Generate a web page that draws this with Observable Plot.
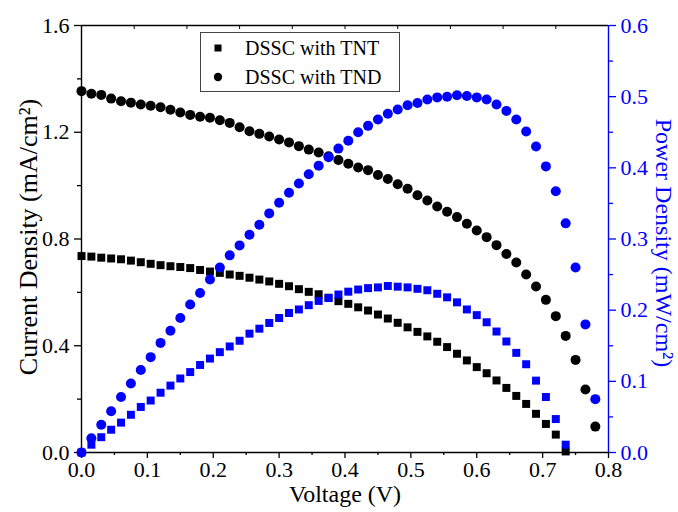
<!DOCTYPE html>
<html>
<head>
<meta charset="utf-8">
<script src="https://cdn.jsdelivr.net/npm/d3@7"></script>
<script src="https://cdn.jsdelivr.net/npm/@observablehq/plot@0.6"></script>
<style>
  html, body { margin: 0; padding: 0; background: #fff; overflow: hidden; }
  #wrap { position: relative; width: 678px; height: 512px; font-family: "Liberation Serif", "Times New Roman", serif; }
  #wrap > svg { position: absolute; left: 0; top: 0; }
  #legend { position: absolute; left: 200px; top: 32px; width: 200px; height: 60px; border: 1px solid #444; background: #fff; box-sizing: border-box; font-size: 20px; color: #000; }
  #legend .row { position: absolute; left: 0; height: 24px; display: flex; align-items: center; white-space: nowrap; }
  #legend .row svg { position: static; display: block; margin-left: 11px; margin-right: 21px; }
</style>
</head>
<body>
<div id="wrap"></div>
<script>
// ---- data ----
const voltage = [0, 0.015, 0.03, 0.045, 0.06, 0.075, 0.09, 0.105, 0.12, 0.135, 0.15, 0.165, 0.18, 0.195, 0.21, 0.225, 0.24, 0.255, 0.27, 0.285, 0.3, 0.315, 0.33, 0.345, 0.36, 0.375, 0.39, 0.405, 0.42, 0.435, 0.45, 0.465, 0.48, 0.495, 0.51, 0.525, 0.54, 0.555, 0.57, 0.585, 0.6, 0.615, 0.63, 0.645, 0.66, 0.675, 0.69, 0.705, 0.72, 0.735, 0.75, 0.765, 0.78];

const tntCurrent = [0.736, 0.734, 0.730, 0.727, 0.724, 0.719, 0.713, 0.707, 0.702, 0.698, 0.695, 0.691, 0.684, 0.678, 0.673, 0.667, 0.662, 0.655, 0.648, 0.641, 0.632, 0.623, 0.612, 0.602, 0.593, 0.580, 0.567, 0.557, 0.544, 0.532, 0.517, 0.502, 0.486, 0.469, 0.452, 0.435, 0.415, 0.395, 0.370, 0.345, 0.320, 0.297, 0.270, 0.242, 0.212, 0.182, 0.145, 0.107, 0.067, 0.004];

const tntPower = [0.000, 0.011, 0.0215, 0.032, 0.042, 0.053, 0.064, 0.073, 0.084, 0.094, 0.104, 0.113, 0.123, 0.132, 0.141, 0.149, 0.157, 0.167, 0.174, 0.182, 0.189, 0.196, 0.201, 0.207, 0.213, 0.217, 0.222, 0.226, 0.229, 0.231, 0.232, 0.234, 0.233, 0.232, 0.230, 0.228, 0.223, 0.218, 0.211, 0.201, 0.193, 0.183, 0.170, 0.156, 0.140, 0.124, 0.101, 0.078, 0.047, 0.011];

const tndCurrent = [1.354, 1.344, 1.340, 1.326, 1.316, 1.311, 1.304, 1.299, 1.294, 1.284, 1.274, 1.265, 1.258, 1.254, 1.245, 1.235, 1.219, 1.204, 1.194, 1.184, 1.173, 1.162, 1.148, 1.135, 1.124, 1.110, 1.096, 1.082, 1.068, 1.058, 1.040, 1.025, 1.005, 0.988, 0.964, 0.944, 0.922, 0.902, 0.882, 0.857, 0.832, 0.807, 0.777, 0.744, 0.712, 0.667, 0.622, 0.572, 0.511, 0.437, 0.347, 0.236, 0.097];

const tndPower = [0.000, 0.020, 0.039, 0.058, 0.078, 0.097, 0.116, 0.134, 0.154, 0.171, 0.189, 0.208, 0.224, 0.243, 0.260, 0.277, 0.291, 0.306, 0.320, 0.336, 0.351, 0.365, 0.378, 0.391, 0.403, 0.415, 0.427, 0.438, 0.450, 0.459, 0.468, 0.476, 0.482, 0.488, 0.491, 0.496, 0.499, 0.500, 0.502, 0.501, 0.499, 0.496, 0.489, 0.480, 0.468, 0.451, 0.430, 0.402, 0.367, 0.322, 0.260, 0.180, 0.075];

const seriesNames = ["DSSC with TNT", "DSSC with TND"];

const xTicks = [0, 0.1, 0.2, 0.3, 0.4, 0.5, 0.6, 0.7, 0.8];
const xMinorTicks = [0.05, 0.15, 0.25, 0.35, 0.45, 0.55, 0.65, 0.75];
const xTopTicks = [0.08, 0.16, 0.24, 0.32, 0.40, 0.48, 0.56, 0.64, 0.72];
const currentTicks = [0, 0.4, 0.8, 1.2, 1.6];
const currentMinorTicks = [0.2, 0.6, 1.0, 1.4];
const powerTicks = [0, 0.1, 0.2, 0.3, 0.4, 0.5, 0.6];
const powerMinorTicks = [0.05, 0.15, 0.25, 0.35, 0.45, 0.55];

const xLabel = "Voltage (V)";
const currentLabel = "Current Density (mA/cm\u00B2)";
const powerLabel = "Power Density (mW/cm\u00B2)";

// ---- tables ----
const tnt = tntCurrent.map((j, i) => ({v: voltage[i], j, p: tntPower[i]}));
const tnd = tndCurrent.map((j, i) => ({v: voltage[i], j, p: tndPower[i]}));

const W = 678, H = 512;
const margins = {marginTop: 25, marginRight: 70, marginBottom: 60, marginLeft: 81};
const FONT = "Liberation Serif, Times New Roman, serif";
const BLUE = "#0000ff";

const currentPlot = Plot.plot({
  width: W, height: H, ...margins,
  style: {fontFamily: FONT, fontSize: "22px", background: "transparent", color: "black"},
  x: {domain: [0, 0.8]},
  y: {domain: [0, 1.6]},
  marks: [
    Plot.axisY({ticks: currentTicks, tickFormat: d3.format(".1f"), tickSize: 7, tickPadding: 5, fontSize: 22, label: null, strokeWidth: 1.3}),
    Plot.axisY({ticks: currentMinorTicks, tickSize: 4, text: null, label: null, strokeWidth: 1.3}),
    Plot.axisX({ticks: xTicks, tickFormat: d3.format(".1f"), tickSize: 6, tickPadding: 3, fontSize: 22, label: null, strokeWidth: 1.3}),
    Plot.axisX({ticks: xMinorTicks, tickSize: 3, text: null, label: null, strokeWidth: 1.3}),
    Plot.axisX({anchor: "top", ticks: xTopTicks, tickSize: 3, text: null, label: null, dy: 3, strokeWidth: 1}),
    Plot.ruleX([0], {stroke: "black", strokeWidth: 1.4}),
    Plot.ruleY([0, 1.6], {stroke: "black", strokeWidth: 1.4}),
    Plot.dot(tnt, {x: "v", y: "j", symbol: "square", r: 4.5, fill: "black"}),
    Plot.dot(tnd, {x: "v", y: "j", symbol: "circle", r: 5, fill: "black"}),
    Plot.text([currentLabel], {text: d => d, frameAnchor: "left", textAnchor: "middle", rotate: -90, dx: -53, dy: -2, fontSize: 26, fill: "black"}),
    Plot.text([xLabel], {text: d => d, frameAnchor: "bottom", textAnchor: "middle", dy: 49, fontSize: 24, fill: "black"})
  ]
});

const powerPlot = Plot.plot({
  width: W, height: H, ...margins,
  style: {fontFamily: FONT, fontSize: "22px", background: "transparent"},
  x: {domain: [0, 0.8], axis: null},
  y: {domain: [0, 0.6]},
  marks: [
    Plot.axisY({anchor: "right", ticks: powerTicks, tickFormat: d3.format(".1f"), tickSize: 7, tickPadding: 5, fontSize: 22, label: null, color: BLUE, strokeWidth: 1.3}),
    Plot.axisY({anchor: "right", ticks: powerMinorTicks, tickSize: 4, text: null, label: null, color: BLUE, strokeWidth: 1.3}),
    Plot.ruleX([0.8], {stroke: BLUE, strokeWidth: 1.4}),
    Plot.dot(tnt, {x: "v", y: "p", symbol: "square", r: 4.5, fill: BLUE}),
    Plot.dot(tnd, {x: "v", y: "p", symbol: "circle", r: 5, fill: BLUE}),
    Plot.text([powerLabel], {text: d => d, frameAnchor: "right", textAnchor: "middle", rotate: 90, dx: 55, dy: 4, fontSize: 24, fill: BLUE})
  ]
});

const wrap = document.getElementById("wrap");
wrap.appendChild(currentPlot);
wrap.appendChild(powerPlot);

// legend
const legend = document.createElement("div");
legend.id = "legend";
const symbols = [
  '<svg width="12" height="12"><rect x="2.5" y="2.5" width="7" height="7" fill="black"/></svg>',
  '<svg width="12" height="12"><circle cx="6" cy="6" r="4.2" fill="black"/></svg>'
];
seriesNames.forEach((name, i) => {
  const row = document.createElement("div");
  row.className = "row";
  row.style.top = (i === 0 ? 3 : 32) + "px";
  row.innerHTML = symbols[i] + '<span>' + name + '</span>';
  legend.appendChild(row);
});
wrap.appendChild(legend);
</script>
</body>
</html>
